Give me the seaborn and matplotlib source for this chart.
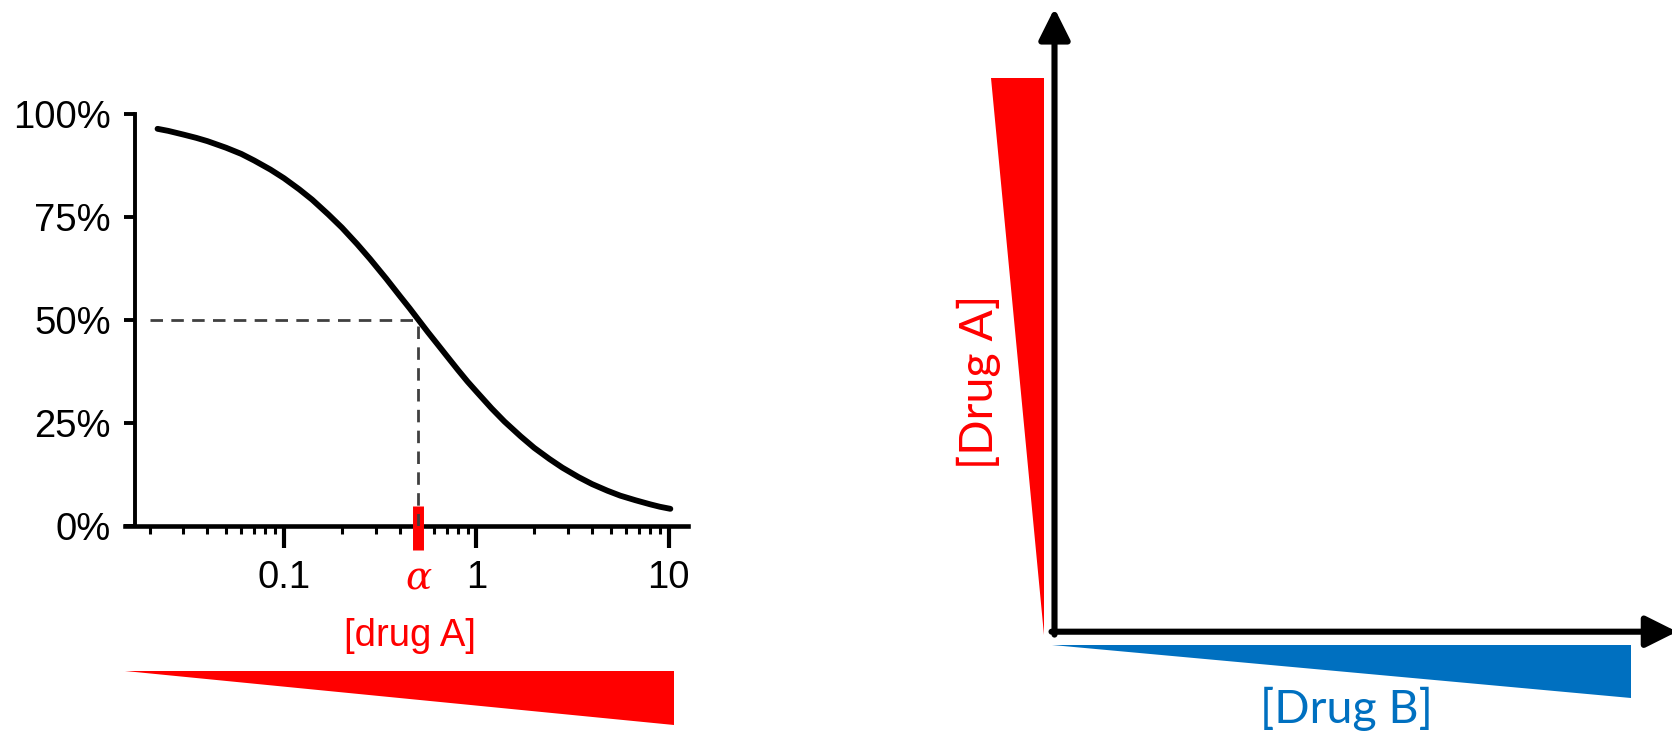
import numpy as np
import pandas as pd
import matplotlib
matplotlib.use('Agg')
import matplotlib.pyplot as plt
import matplotlib.ticker as mticker
import seaborn as sns

# ---- data ----
dose = [0.022, 0.025, 0.03, 0.035, 0.04, 0.05, 0.06, 0.07, 0.085, 0.1,
        0.12, 0.14, 0.17, 0.2, 0.24, 0.28, 0.34, 0.4, 0.45, 0.5,
        0.56, 0.63, 0.7, 0.8, 0.9, 1.0, 1.2, 1.4, 1.7, 2.0,
        2.4, 2.8, 3.4, 4.0, 4.8, 5.6, 6.7, 8.0, 9.0, 10.2]
response = [96.4, 95.9, 95.0, 94.2, 93.4, 91.8, 90.3, 88.7, 86.5, 84.4,
            81.7, 79.2, 75.6, 72.4, 68.4, 64.8, 60.0, 55.8, 52.8, 50.0,
            47.0, 44.0, 41.3, 37.9, 35.0, 32.6, 28.5, 25.3, 21.7, 18.9,
            16.2, 14.1, 11.8, 10.1, 8.5, 7.3, 6.2, 5.2, 4.6, 4.1]
alpha_dose = 0.5
alpha_response = 50
guide_start = 0.02
x_ticks = [0.1, 1, 10]
x_tick_labels = ['0.1', '1', '10']
y_ticks = [0, 25, 50, 75, 100]
y_tick_labels = ['0%', '25%', '50%', '75%', '100%']
x_label = '[drug A]'
alpha_label = 'α'
drug_a_label = '[Drug A]'
drug_b_label = '[Drug B]'

RED = '#FF0000'
BLUE = '#0070C0'

sns.set_theme(style='white')
plt.rcParams['font.family'] = ['Liberation Sans', 'DejaVu Sans']

W, H = 1672, 734
fig = plt.figure(figsize=(W / 100, H / 100), dpi=100)

# ---- left panel: dose-response curve ----
ax = fig.add_axes([125 / W, (H - 525.7) / H, 563 / W, 411.7 / H])
ax.set_xscale('log')
df = pd.DataFrame({'dose': dose, 'response': response})
sns.lineplot(data=df, x='dose', y='response', ax=ax, color='black', lw=4.2,
             zorder=5, solid_joinstyle='round')
ax.set_xlim(0.0149, 12.6)
ax.set_ylim(0, 100)
ax.patch.set_alpha(0)
for s in ['top', 'right']:
    ax.spines[s].set_visible(False)
ax.spines['left'].set_position(('data', 0.0167))
ax.spines['left'].set_linewidth(2.8)
ax.spines['bottom'].set_linewidth(3.3)
ax.spines['left'].set_color('black')
ax.spines['bottom'].set_color('black')

ax.set_xticks(x_ticks)
ax.set_xticklabels(x_tick_labels)
ax.xaxis.set_minor_locator(mticker.LogLocator(base=10, subs=np.arange(2, 10), numticks=20))
ax.xaxis.set_minor_formatter(mticker.NullFormatter())
ax.set_yticks(y_ticks)
ax.set_yticklabels(y_tick_labels)
ax.tick_params(axis='x', which='major', direction='out', length=16, width=3,
               pad=9, labelsize=27.5, colors='black', bottom=True)
ax.tick_params(axis='x', which='minor', direction='out', length=6, width=2.2,
               colors='black', bottom=True)
ax.tick_params(axis='y', which='major', direction='out', length=8, width=2.8,
               pad=9, labelsize=27.5, colors='black', left=True)

# guide lines and alpha marker
ax.plot([guide_start, alpha_dose], [alpha_response, alpha_response],
        color='#404040', lw=2, dashes=(4.5, 3), zorder=7)
ax.plot([alpha_dose, alpha_dose], [0, alpha_response],
        color='#404040', lw=2, dashes=(4.5, 3), zorder=7)
ax.vlines(alpha_dose, -5.9, 4.86, colors=RED, lw=7.9, clip_on=False, zorder=6)
ax.text(alpha_dose, -0.156, alpha_label, transform=ax.get_xaxis_transform(),
        ha='center', va='baseline', color=RED, fontsize=28,
        family=['DejaVu Serif'], style='italic')
ax.set_xlabel(x_label, color=RED, fontsize=27.5)
ax.set_ylabel('')
ax.xaxis.set_label_coords(0.506, -0.224)

# ---- overlay for wedges and the schematic axes ----
ov = fig.add_axes([0, 0, 1, 1])
ov.set_xlim(0, W)
ov.set_ylim(H, 0)
ov.axis('off')
ov.patch.set_alpha(0)

ov.fill([125, 674, 674], [671, 671, 725], color=RED, lw=0)
ov.fill([991, 1044.3, 1044.3], [77.7, 77.7, 635], color=RED, lw=0)
ov.fill([1051.7, 1630.7, 1630.7], [645, 645, 698], color=BLUE, lw=0)

arrow = dict(arrowstyle='-|>,head_length=19,head_width=9.5', lw=4.4, color='black',
             shrinkA=0, shrinkB=0, mutation_scale=1)
ov.annotate('', xy=(1054.5, 8.3), xytext=(1054.5, 634.6), arrowprops=arrow,
            annotation_clip=False)
ov.annotate('', xy=(1677, 631.7), xytext=(1051.5, 631.7), arrowprops=arrow,
            annotation_clip=False)

ov.text(979, 382, drug_a_label, rotation=90, ha='center', va='center',
        color=RED, fontsize=33.5, family=['Lato', 'DejaVu Sans'])
ov.text(1346.7, 723, drug_b_label, ha='center', va='baseline',
        color=BLUE, fontsize=33.5, family=['Lato', 'DejaVu Sans'])

fig.savefig('out.png', dpi=100)
